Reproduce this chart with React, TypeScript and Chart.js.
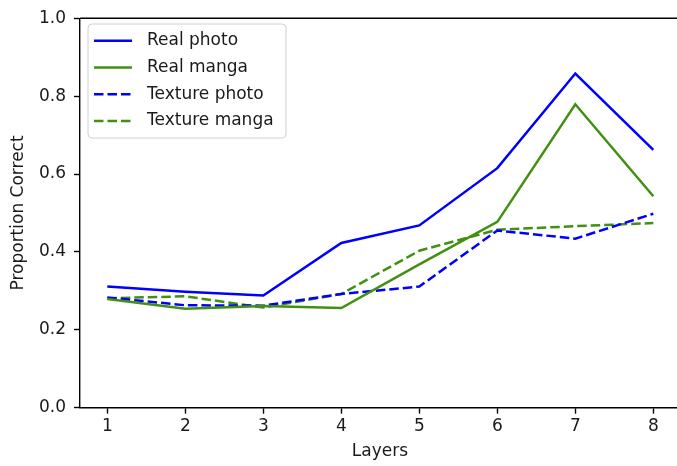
import React, { useEffect, useRef } from 'react';
import { Chart, registerables } from 'chart.js';

Chart.register(...registerables);

const layers = [1, 2, 3, 4, 5, 6, 7, 8];
const realPhoto = [0.311, 0.298, 0.288, 0.423, 0.468, 0.615, 0.858, 0.662];
const realManga = [0.279, 0.254, 0.261, 0.256, 0.368, 0.477, 0.779, 0.543];
const texturePhoto = [0.283, 0.263, 0.262, 0.292, 0.311, 0.455, 0.434, 0.498];
const textureManga = [0.281, 0.286, 0.257, 0.292, 0.403, 0.457, 0.466, 0.474];
const yTicks = [0, 0.2, 0.4, 0.6, 0.8, 1.0];
const seriesLabels = ['Real photo', 'Real manga', 'Texture photo', 'Texture manga'];
// x-axis limits: the figure is cropped on the right, so the axis runs past the visible edge
const xMin = 0.65;
const xMax = 8.855;

const BLUE = '#0000ff';
const GREEN = '#419012';
const FONT = 'DejaVu Sans';
const TEXT = '#1a1a1a';
const DASH = [9.5, 4];

const toPoints = (vals: number[]) => layers.map((x, i) => ({ x, y: vals[i] }));

const legendPlugin = {
  id: 'mplExtras',
  afterDraw(chart: any) {
    const ctx = chart.ctx;
    const { left, top } = chart.chartArea;
    ctx.save();
    ctx.strokeStyle = '#000';
    ctx.lineWidth = 1.4;
    ctx.beginPath();
    ctx.moveTo(left, top);
    ctx.lineTo(chart.width, top);
    ctx.stroke();

    const bx = 88, by = 24, bw = 198, bh = 114, r = 4;
    ctx.beginPath();
    ctx.moveTo(bx + r, by);
    ctx.lineTo(bx + bw - r, by);
    ctx.quadraticCurveTo(bx + bw, by, bx + bw, by + r);
    ctx.lineTo(bx + bw, by + bh - r);
    ctx.quadraticCurveTo(bx + bw, by + bh, bx + bw - r, by + bh);
    ctx.lineTo(bx + r, by + bh);
    ctx.quadraticCurveTo(bx, by + bh, bx, by + bh - r);
    ctx.lineTo(bx, by + r);
    ctx.quadraticCurveTo(bx, by, bx + r, by);
    ctx.closePath();
    ctx.fillStyle = 'rgba(255,255,255,0.8)';
    ctx.fill();
    ctx.strokeStyle = '#d0d0d0';
    ctx.lineWidth = 1;
    ctx.stroke();

    const ds = chart.data.datasets;
    const rowY = [40.7, 67.5, 94.3, 121];
    ds.forEach((d: any, i: number) => {
      const y = rowY[i];
      ctx.strokeStyle = d.borderColor;
      ctx.lineWidth = d.borderWidth;
      ctx.setLineDash(d.borderDash || []);
      ctx.beginPath();
      ctx.moveTo(94, y);
      ctx.lineTo(132, y);
      ctx.stroke();
      ctx.setLineDash([]);
      ctx.fillStyle = TEXT;
      ctx.font = `17px "${FONT}"`;
      ctx.textBaseline = 'middle';
      ctx.textAlign = 'left';
      ctx.fillText(d.label, 147, y);
    });
    ctx.restore();
  },
};

export default function App() {
  const ref = useRef<HTMLCanvasElement>(null);
  useEffect(() => {
    if (!ref.current) return;
    const chart = new Chart(ref.current, {
      type: 'line',
      data: {
        datasets: [
          { label: seriesLabels[0], data: toPoints(realPhoto), borderColor: BLUE, borderWidth: 2.5, pointRadius: 0, tension: 0, fill: false },
          { label: seriesLabels[1], data: toPoints(realManga), borderColor: GREEN, borderWidth: 2.5, pointRadius: 0, tension: 0, fill: false },
          { label: seriesLabels[2], data: toPoints(texturePhoto), borderColor: BLUE, borderWidth: 2.5, borderDash: DASH, pointRadius: 0, tension: 0, fill: false },
          { label: seriesLabels[3], data: toPoints(textureManga), borderColor: GREEN, borderWidth: 2.5, borderDash: DASH, pointRadius: 0, tension: 0, fill: false },
        ],
      },
      options: {
        responsive: false,
        animation: false,
        devicePixelRatio: 1,
        layout: { padding: { top: 16, right: 40, left: 0, bottom: 0 } },
        plugins: { legend: { display: false }, tooltip: { enabled: false } },
        scales: {
          x: {
            type: 'linear',
            min: xMin,
            max: xMax,
            afterFit: (s: any) => { s.height = 58.3; },
            afterBuildTicks: (s: any) => { s.ticks = layers.map((v) => ({ value: v })); },
            grid: { display: true, drawOnChartArea: false, drawTicks: true, tickLength: 6, tickColor: '#000', tickWidth: 1.4 },
            border: { display: true, color: '#000', width: 1.4 },
            ticks: { color: TEXT, font: { family: FONT, size: 17 }, padding: 3, maxRotation: 0, autoSkip: false },
            title: { display: false },
          },
          y: {
            type: 'linear',
            min: 0,
            max: 1,
            afterFit: (s: any) => { s.width = 80; },
            afterBuildTicks: (s: any) => { s.ticks = yTicks.map((v) => ({ value: v })); },
            grid: { display: true, drawOnChartArea: false, drawTicks: true, tickLength: 6, tickColor: '#000', tickWidth: 1.4 },
            border: { display: true, color: '#000', width: 1.4 },
            ticks: { color: TEXT, font: { family: FONT, size: 17 }, padding: 8, callback: (v: any) => Number(v).toFixed(1) },
            title: { display: true, text: 'Proportion Correct', color: TEXT, font: { family: FONT, size: 17 }, padding: { top: 8, bottom: 0 } },
          },
        },
      },
      plugins: [legendPlugin],
    } as any);
    return () => chart.destroy();
  }, []);
  return (
    <div style={{ position: 'fixed', left: 0, top: 0, width: 677, height: 466, overflow: 'hidden', background: '#fff' }}>
      <div style={{ width: 760, height: 466 }}>
        <canvas ref={ref} width={760} height={466} style={{ display: 'block', width: 760, height: 466, maxWidth: 'none' }} />
      </div>
      <div style={{ position: 'absolute', left: 80, width: 600, top: 440, textAlign: 'center', font: `17px "${FONT}"`, color: TEXT, lineHeight: '20px' }}>Layers</div>
    </div>
  );
}
